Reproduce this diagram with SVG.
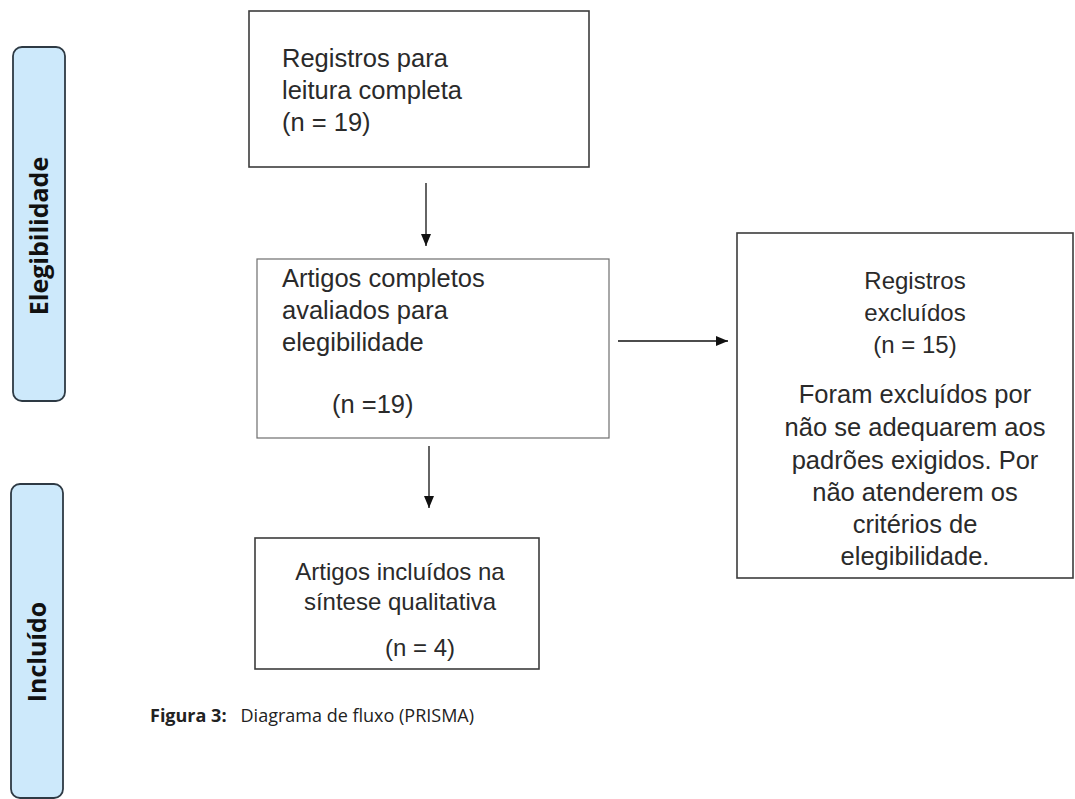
<svg xmlns="http://www.w3.org/2000/svg" width="1075" height="799" viewBox="0 0 1075 799">
<defs>
<marker id="ah" viewBox="0 0 12 10" refX="12" refY="5" markerWidth="12" markerHeight="10" markerUnits="userSpaceOnUse" orient="auto">
<path d="M0,0 L12,5 L0,10 Z" fill="#111"/>
</marker>
<style>
.box{fill:#fff;stroke:#3c3c3c;stroke-width:1.6}
.thin{fill:#fff;stroke:#6e6e6e;stroke-width:1.2}
.side{fill:#cde9fb;stroke:#2e3a44;stroke-width:1.8}
.t{font-family:"Liberation Sans",Arial,sans-serif;font-size:25.5px;fill:#2a2a2a}
.ts{font-family:"Liberation Sans",Arial,sans-serif;font-size:24px;fill:#2a2a2a}
.c{text-anchor:middle}
.lab{font-family:"Open Sans","DejaVu Sans",sans-serif;font-weight:bold;font-size:25px;fill:#111;text-anchor:middle}
.cap{font-family:"Open Sans","Liberation Sans",sans-serif;font-size:18px;fill:#222}
.conn{stroke:#111;stroke-width:1.3;fill:none}
</style>
</defs>
<rect width="1075" height="799" fill="#fff"/>

<g id="side-elegibilidade">
<rect class="side" x="13" y="47" width="52" height="354" rx="9"/>
<text class="lab" transform="translate(48,236) rotate(-90)">Elegibilidade</text>
</g>
<g id="side-incluido">
<rect class="side" x="11" y="484" width="52" height="314" rx="9"/>
<text class="lab" transform="translate(46,652) rotate(-90)">Incluído</text>
</g>

<g id="n1">
<rect class="box" x="249" y="11" width="340" height="156"/>
<text class="t" x="282" y="67">Registros para</text>
<text class="t" x="282" y="99">leitura completa</text>
<text class="t" x="282" y="131">(n = 19)</text>
</g>

<g id="n2">
<rect class="thin" x="257" y="259" width="352" height="179"/>
<text class="t" x="282" y="287">Artigos completos</text>
<text class="t" x="282" y="319">avaliados para</text>
<text class="t" x="282" y="351">elegibilidade</text>
<text class="t" x="332" y="413">(n =19)</text>
</g>

<g id="n3">
<rect class="box" x="737" y="233" width="336" height="345"/>
<text class="ts c" x="915" y="289">Registros</text>
<text class="ts c" x="915" y="321">excluídos</text>
<text class="ts c" x="915" y="353">(n = 15)</text>
<text class="t c" x="915" y="403">Foram excluídos por</text>
<text class="t c" x="915" y="436">não se adequarem aos</text>
<text class="t c" x="915" y="469">padrões exigidos. Por</text>
<text class="t c" x="915" y="501">não atenderem os</text>
<text class="t c" x="915" y="533">critérios de</text>
<text class="t c" x="915" y="565">elegibilidade.</text>
</g>

<g id="n4">
<rect class="box" x="255" y="538" width="284" height="131"/>
<text class="ts c" x="400" y="580">Artigos incluídos na</text>
<text class="ts c" x="400" y="610">síntese qualitativa</text>
<text class="ts c" x="420" y="656">(n = 4)</text>
</g>

<g id="connectors">
<line class="conn" x1="426" y1="183" x2="426" y2="246" marker-end="url(#ah)"/>
<line class="conn" x1="618" y1="341" x2="728" y2="341" marker-end="url(#ah)"/>
<line class="conn" x1="429" y1="446" x2="429" y2="508" marker-end="url(#ah)"/>
</g>

<g id="caption">
<text class="cap" x="150" y="722"><tspan font-weight="bold">Figura 3:</tspan><tspan xml:space="preserve">   Diagrama de fluxo (PRISMA)</tspan></text>
</g>
</svg>
